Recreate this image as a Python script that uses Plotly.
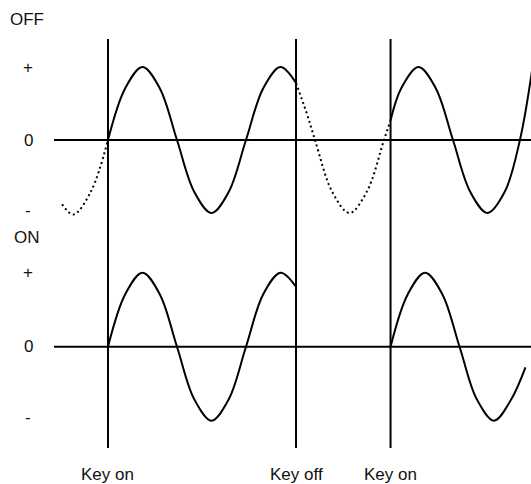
import plotly.graph_objects as go

# ---- data (time in quarter-periods, key on at t=0) ----
key_times = [0.0, 5.45, 8.19]
key_labels = ["Key on", "Key off", "Key on"]

# OFF panel
off_pre_t = [-1.33, -1.0, -0.5, 0.0]
off_pre_v = [-0.88, -1.02, -0.71, 0.0]
off_a_t = [0, 0.5, 1, 1.5, 2, 2.5, 3, 3.5, 4, 4.5, 5, 5.45]
off_a_v = [0, 0.71, 1, 0.71, 0, -0.71, -1, -0.71, 0, 0.71, 1, 0.78]
off_gap_t = [5.45, 5.75, 6, 6.5, 7, 7.5, 8, 8.19]
off_gap_v = [0.78, 0.38, 0, -0.71, -1, -0.71, 0, 0.27]
off_b_t = [8.19, 8.5, 9, 9.5, 10, 10.5, 11, 11.5, 11.94, 12.3]
off_b_v = [0.27, 0.71, 1, 0.71, 0, -0.71, -1, -0.71, 0, 0.98]

# ON panel
on_a_t = [0, 0.5, 1, 1.5, 2, 2.5, 3, 3.5, 4, 4.5, 5, 5.45]
on_a_v = [0, 0.71, 1, 0.71, 0, -0.71, -1, -0.71, 0, 0.71, 1, 0.81]
on_b_t = [8.19, 8.69, 9.19, 9.69, 10.19, 10.69, 11.19, 11.69, 12.1]
on_b_v = [0, 0.71, 1, 0.71, 0, -0.71, -1, -0.71, -0.28]

level_vals = [1, 0, -1]
level_text = ["+", "0", "-"]
panel_names = ["OFF", "ON"]

W, H = 531, 484
FONT = "Liberation Sans, Arial, sans-serif"
INK = "#000000"

fig = go.Figure()

def curve(t, v, yaxis, dash="solid"):
    fig.add_trace(go.Scatter(
        x=t, y=v, yaxis=yaxis, mode="lines",
        line=dict(color=INK, width=2, shape="spline", smoothing=1.0, dash=dash),
        hoverinfo="skip", showlegend=False))

curve(off_pre_t, off_pre_v, "y", dash="2px,3px")
curve(off_a_t, off_a_v, "y")
curve(off_gap_t, off_gap_v, "y", dash="2px,3px")
curve(off_b_t, off_b_v, "y")
curve(on_a_t, on_a_v, "y2")
curve(on_b_t, on_b_v, "y2")

shapes = []
# zero lines
x_start = -1.565
for yref in ["y", "y2"]:
    shapes.append(dict(type="line", xref="x", yref=yref, x0=x_start, x1=12.4,
                       y0=0, y1=0, line=dict(color=INK, width=2)))
# key event lines
for kt in key_times:
    shapes.append(dict(type="line", xref="x", yref="paper", x0=kt, x1=kt,
                       y0=1 - 448 / H, y1=1 - 39 / H, line=dict(color=INK, width=2)))

ann = []
for yref in ["y", "y2"]:
    for v, txt in zip(level_vals, level_text):
        ann.append(dict(xref="paper", yref=yref, x=28 / W, y=v, text=txt,
                        showarrow=False, xanchor="center", yanchor="middle",
                        yshift=3 if txt == "-" else 0,
                        font=dict(family=FONT, size=17, color="#111")))
ann.append(dict(xref="paper", yref="paper", x=8 / W, y=1 - 19 / H, text=panel_names[0],
                showarrow=False, xanchor="left", yanchor="middle",
                font=dict(family=FONT, size=17, color="#111")))
ann.append(dict(xref="paper", yref="paper", x=12 / W, y=1 - 237 / H, text=panel_names[1],
                showarrow=False, xanchor="left", yanchor="middle",
                font=dict(family=FONT, size=17, color="#111")))
for kt, lab in zip(key_times, key_labels):
    ann.append(dict(xref="x", yref="paper", x=kt, y=1 - 474 / H, text=lab,
                    showarrow=False, xanchor="center", yanchor="middle",
                    font=dict(family=FONT, size=17, color="#111")))

fig.update_layout(
    width=W, height=H,
    margin=dict(l=0, r=0, t=0, b=0),
    paper_bgcolor="white", plot_bgcolor="white",
    xaxis=dict(range=[-3.130, 12.261], visible=False, domain=[0, 1]),
    yaxis=dict(range=[(140 - H) / 73, 140 / 73], visible=False, domain=[0, 1]),
    yaxis2=dict(range=[(346.7 - H) / 74, 346.7 / 74], visible=False,
                overlaying="y", domain=[0, 1]),
    shapes=shapes, annotations=ann,
    showlegend=False,
)

fig.write_html("out.html",
               config={"displayModeBar": False, "staticPlot": True},
               post_script="document.body.style.margin='0';document.body.style.overflow='hidden';")
